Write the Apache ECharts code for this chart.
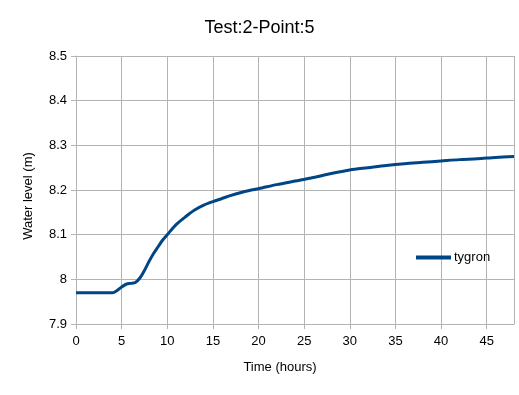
<!DOCTYPE html>
<html><head><meta charset="utf-8">
<script src="https://cdn.jsdelivr.net/npm/echarts@6/dist/echarts.min.js"></script>
<style>html,body{margin:0;padding:0;background:#fff}#c{width:519px;height:395px}</style>
</head><body><div id="c"></div>
<script>
const hours = [0,1,2,3,4,4.5,5,5.5,6,6.5,7,7.5,8,8.5,9,9.5,10,11,12,13,14,15,16,17,18,19,20,22,24,26,28,30,32,34,36,38,40,42,44,46,48];
const tygron = [7.97,7.97,7.97,7.97,7.97,7.975,7.983,7.989,7.991,7.993,8.003,8.02,8.04,8.058,8.073,8.088,8.1,8.123,8.14,8.155,8.166,8.174,8.181,8.188,8.194,8.199,8.203,8.212,8.22,8.228,8.237,8.245,8.25,8.255,8.259,8.262,8.265,8.268,8.27,8.273,8.275];
const seriesName = 'tygron';
const chartTitle = 'Test:2-Point:5';
const xTitle = 'Time (hours)';
const yTitle = 'Water level (m)';

const font = 'Liberation Sans, Arial, sans-serif';
const grey = '#b3b3b3';
const chart = echarts.init(document.getElementById('c'), null, {renderer:'canvas'});
chart.setOption({
  animation:false,
  title:{text:chartTitle,left:'center',top:14,textStyle:{fontFamily:font,fontSize:18,fontWeight:'normal',color:'#000'}},
  grid:{left:76,right:5,top:56,bottom:71},
  legend:{data:[{name:seriesName,icon:'rect'}],left:411,top:246,itemWidth:35,itemHeight:4,itemGap:4,
    textStyle:{fontFamily:font,fontSize:13,color:'#000',padding:[0,0,0,-2]}},
  xAxis:{type:'value',min:0,max:48,interval:5,
    name:xTitle,nameLocation:'middle',nameGap:37,
    nameTextStyle:{fontFamily:font,fontSize:13,color:'#000',padding:[0,30,0,0]},
    axisLine:{show:true,lineStyle:{color:grey,width:1}},
    axisTick:{show:true,length:5,lineStyle:{color:grey}},
    axisLabel:{fontFamily:font,fontSize:13,color:'#000',margin:11,showMaxLabel:false},
    splitLine:{show:true,lineStyle:{color:grey,width:1}}},
  yAxis:{type:'value',min:7.9,max:8.5,interval:0.1,
    name:yTitle,nameLocation:'middle',nameGap:41,
    nameTextStyle:{fontFamily:font,fontSize:13,color:'#000',padding:[0,12,0,0]},
    axisLine:{show:true,lineStyle:{color:grey,width:1}},
    axisTick:{show:true,length:5,lineStyle:{color:grey}},
    axisLabel:{fontFamily:font,fontSize:13,color:'#000',margin:9,
      formatter:v=>{const s=(Math.round(v*10)/10).toString();return s;}},
    splitLine:{show:true,lineStyle:{color:grey,width:1}}},
  series:[{name:seriesName,type:'line',data:hours.map((h,i)=>[h,tygron[i]]),
    smooth:0.3,showSymbol:false,lineStyle:{color:'#004586',width:3},itemStyle:{color:'#004586'}}]
});
</script></body></html>
